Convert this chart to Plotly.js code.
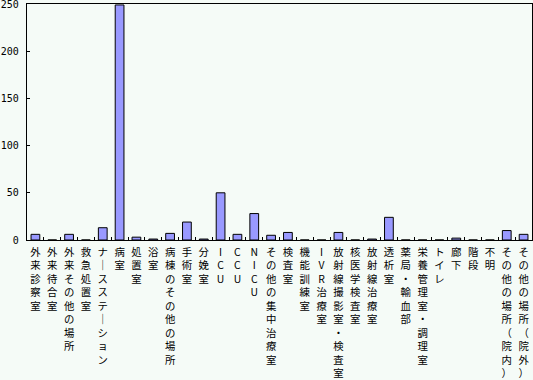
<!DOCTYPE html>
<html>
<head>
<meta charset="utf-8">
<script src="https://cdn.plot.ly/plotly-3.0.1.min.js"></script>
<style>html,body{margin:0;padding:0;background:#f5fbf7;}#chart{width:533px;height:380px;}</style>
</head>
<body>
<div id="chart"></div>
<script>
var categories = ["外来診察室","外来待合室","外来その他の場所","救急処置室","ナースステーション","病室","処置室","浴室","病棟のその他の場所","手術室","分娩室","ICU","CCU","NICU","その他の集中治療室","検査室","機能訓練室","IVR治療室","放射線撮影室・検査室","核医学検査室","放射線治療室","透析室","薬局・輸血部","栄養管理室・調理室","トイレ","廊下","階段","不明","その他の場所（院内）","その他の場所（院外）"];
var counts = [6,0,6,0,13,249,3,1,7,19,1,50,6,28,5,8,0,0,8,0,1,24,0,0,0,2,0,0,10,6];
var yTicks = [0,50,100,150,200,250];

function vertical(s){
  return Array.from(s.replace(/ー/g,"｜")).join("<br>");
}
var tickText = categories.map(vertical);

var trace = {
  type: "bar",
  x: categories,
  y: counts,
  marker: {color: "#9999ff", line: {color: "#000000", width: 1}},
  hoverinfo: "x+y"
};

var layout = {
  width: 533, height: 380,
  margin: {l: 26.5, r: 1, t: 4, b: 140, pad: 0},
  paper_bgcolor: "#f5fbf7",
  plot_bgcolor: "#f5fbf7",
  bargap: 0.48,
  showlegend: false,
  font: {family: "Noto Sans CJK JP", color: "#000000"},
  xaxis: {
    type: "category",
    tickmode: "array",
    tickvals: categories,
    ticktext: tickText,
    tickangle: 0,
    tickson: "boundaries",
    ticks: "inside",
    ticklen: 3,
    tickcolor: "#000",
    showline: true, linecolor: "#000", linewidth: 1.3,
    mirror: true,
    showgrid: false,
    zeroline: false,
    ticklabelstandoff: 2,
    tickfont: {size: 10.4, family: "Noto Sans CJK JP", color: "#000"}
  },
  yaxis: {
    range: [0, 250],
    tickmode: "array",
    tickvals: yTicks,
    ticktext: yTicks.map(String),
    ticks: "inside",
    ticklen: 3,
    tickcolor: "#000",
    showline: true, linecolor: "#000", linewidth: 1.3,
    mirror: true,
    showgrid: false,
    zeroline: false,
    ticklabeloverflow: "allow",
    ticklabelstandoff: 5,
    tickfont: {size: 10, family: "DejaVu Sans Mono", color: "#000"}
  }
};

Plotly.newPlot("chart", [trace], layout, {displayModeBar: false, staticPlot: true});
</script>
</body>
</html>
